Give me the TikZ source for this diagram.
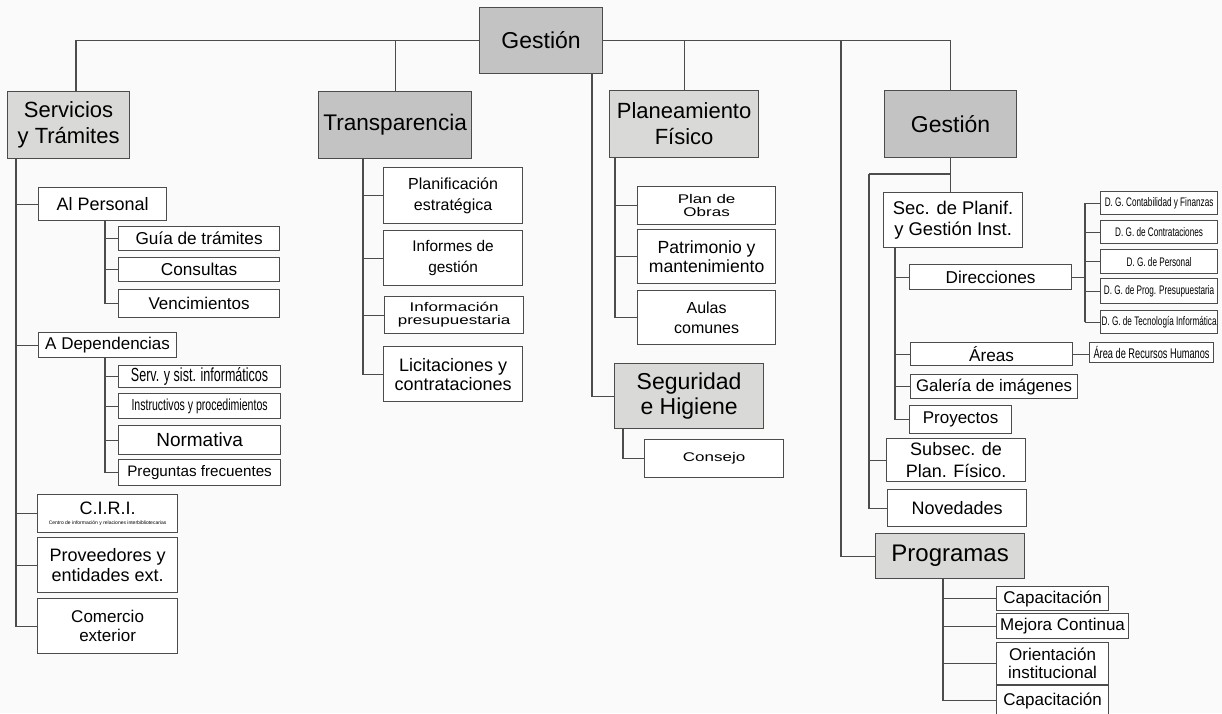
\documentclass[tikz,border=0pt]{standalone}
\usepackage{fontspec}
\setmainfont{Liberation Sans}
\newfontfamily\narrowfont[FakeStretch=0.66]{Liberation Sans}
\newfontfamily\widefont[FakeStretch=1.35]{Liberation Sans}
\newcommand{\fz}[2]{\fontsize{#1}{#2}\selectfont}
\definecolor{headfill}{HTML}{C3C3C3}
\definecolor{palefill}{HTML}{D9DAD8}
\definecolor{edgecol}{HTML}{4C4C4C}
\definecolor{bgcol}{HTML}{FAFAFA}

\begin{document}
\begin{tikzpicture}[x=0.5pt,y=-0.5pt,
    box/.style={draw=edgecol,line width=0.6pt,fill=white,anchor=north west,inner sep=0pt,align=center,font={\fz{8.5}{10}}},
    head/.style={box,fill=headfill},
    pale/.style={box,fill=palefill},
    wh/.style 2 args={minimum width=#1*0.5pt,minimum height=#2*0.5pt},
    conn/.style={draw=edgecol,line width=0.6pt},
    elbow/.style={to path={-| (\tikztotarget)}},
    vbow/.style={to path={|- (\tikztotarget)}}]
                        \clip (0,0) rectangle (1222,713);
                        \fill[bgcol] (0,0) rectangle (1222,713);

                        \node[head,wh={123}{66},font={\fz{11.5}{13}}] (root) at (479,7) {Gestión};
                        \node[pale,wh={122}{67},font={\fz{11}{13}}] (serv) at (7,91) {Servicios\\y Trámites};
                        \node[head,wh={153}{67},font={\fz{11.3}{13}}] (transp) at (318,91) {Transparencia};
                        \node[pale,wh={149}{67},font={\fz{11}{13}}] (plan) at (609,90) {Planeamiento\\Físico};
                        \node[head,wh={132}{67},font={\fz{11.5}{13}}] (gest) at (884,90) {Gestión};

                        \node[box,wh={128}{33},font={\fz{9}{10}}] (alp) at (38,187) {Al Personal};
                        \node[box,wh={161}{24},font={\fz{8.6}{10}}] (guia) at (118,226) {Guía de trámites};
                        \node[box,wh={161}{24},font={\fz{8.6}{10}}] (cons) at (118,257) {Consultas};
                        \node[box,wh={161}{28}] (venc) at (118,289) {Vencimientos};
                        \node[box,wh={138}{25}] (adep) at (38,332) {A Dependencias};
                        \node[box,wh={162}{22},font={\narrowfont\fz{9.5}{10}}] (servs) at (118,365) {Serv. y sist. informáticos};
                        \node[box,wh={162}{25},font={\narrowfont\fz{8}{9}}] (instr) at (118,393) {Instructivos y procedimientos};
                        \node[box,wh={162}{29},font={\fz{9.5}{10}}] (norm) at (118,425) {Normativa};
                        \node[box,wh={162}{26},font={\fz{7.6}{9}}] (preg) at (118,459) {Preguntas frecuentes};
                        \node[box,wh={140}{38},font={\fz{9}{10}}] (ciri) at (37,494) {C.I.R.I.\\[-5pt]{\fz{2.5}{3}Centro de información y relaciones interbibliotecarias}};
                        \node[box,wh={140}{55},font={\fz{9}{10}}] (prov) at (37,537) {Proveedores y\\entidades ext.};
                        \node[box,wh={140}{55},font={\fz{8.5}{9.3}}] (com) at (37,598) {Comercio\\exterior};

                        \node[box,wh={139}{56},font={\fz{8}{10.8}}] (planif) at (383,167) {Planificación\\estratégica};
                        \node[box,wh={139}{55},font={\fz{7.7}{10.8}}] (inf) at (383,230) {Informes de\\gestión};
                        \node[box,wh={139}{37},font={\widefont\fz{6.3}{6.5}}] (infp) at (384,296) {Información\\presupuestaria};
                        \node[box,wh={139}{55},font={\fz{9}{9.5}}] (lic) at (383,346) {Licitaciones y\\contrataciones};

                        \node[box,wh={138}{38},font={\widefont\fz{6.3}{6.5}}] (obras) at (637,186) {Plan de\\Obras};
                        \node[box,wh={138}{54},font={\fz{8.8}{9.3}}] (patr) at (637,229) {Patrimonio y\\mantenimiento};
                        \node[box,wh={138}{54},font={\fz{8}{10}}] (aulas) at (637,290) {Aulas\\comunes};
                        \node[pale,wh={149}{65},font={\fz{11.5}{12.5}}] (seg) at (614,363) {Seguridad\\e Higiene};
                        \node[box,wh={139}{38},font={\widefont\fz{6.3}{7}}] (consejo) at (644,439) {Consejo};

                        \node[box,wh={139}{55},font={\fz{9.2}{10.8}}] (sec) at (883,192) {Sec. de Planif.\\y Gestión Inst.};
                        \node[box,wh={162}{25},font={\fz{8.6}{10}}] (dir) at (909,264) {Direcciones};
                        \node[box,wh={117}{23},font={\narrowfont\fz{6.2}{7}}] (dg1) at (1100,191) {D. G. Contabilidad y Finanzas};
                        \node[box,wh={117}{23},font={\narrowfont\fz{6.2}{7}}] (dg2) at (1100,220) {D. G. de Contrataciones};
                        \node[box,wh={117}{24},font={\narrowfont\fz{6.2}{7}}] (dg3) at (1100,249) {D. G. de Personal};
                        \node[box,wh={117}{25},font={\narrowfont\fz{6.2}{7}}] (dg4) at (1100,278) {D. G. de Prog. Presupuestaria};
                        \node[box,wh={117}{23},font={\narrowfont\fz{6.2}{7}}] (dg5) at (1100,310) {D. G. de Tecnología Informática};
                        \node[box,wh={162}{23},font={\fz{8.6}{10}}] (areas) at (910,342) {Áreas};
                        \node[box,wh={124}{20},font={\narrowfont\fz{7}{8}}] (arh) at (1089,342) {Área de Recursos Humanos};
                        \node[box,wh={167}{24},font={\fz{8.4}{10}}] (gal) at (910,374) {Galería de imágenes};
                        \node[box,wh={102}{28}] (proy) at (909,405) {Proyectos};
                        \node[box,wh={139}{43},font={\fz{9}{10.8}}] (subsec) at (886,438) {Subsec. de\\Plan. Físico.};
                        \node[box,wh={139}{37},font={\fz{9}{10}}] (nov) at (887,489) {Novedades};
                        \node[pale,wh={149}{45},font={\fz{12}{13}}] (prog) at (875,533) {Programas};
                        \node[box,wh={112}{24}] (cap1) at (996,586) {Capacitación};
                        \node[box,wh={132}{25}] (mej) at (996,613) {Mejora Continua};
                        \node[box,wh={112}{42},font={\fz{8.5}{9.2}}] (ori) at (996,642) {Orientación\\institucional};
                        \node[box,wh={112}{30}] (cap2) at (996,685) {Capacitación};

                        \coordinate (sTop) at (76,91);
                        \coordinate (pTop) at (841,41);
                        \coordinate (rT) at (592,73);
                        \coordinate (sT) at (16,158);
                        \coordinate (alT) at (105,220);
                        \coordinate (adT) at (105,357);
                        \coordinate (tT) at (363,158);
                        \coordinate (pT) at (615,157);
                        \coordinate (segT) at (623,428);
                        \coordinate (gT) at (869,174);
                        \coordinate (secT) at (895,247);
                        \coordinate (dgT) at (1085,270);
                        \coordinate (prT) at (943,578);

                        \path[conn]
                            (root.west) edge[elbow] (sTop)
                            (root.east) edge[elbow] (gest.north)
                            (transp.north) edge (transp.north |- root.west)
                            (plan.north) edge (plan.north |- root.east)
                            (pTop) edge[vbow] (prog.west)
                            (rT) edge[vbow] (seg.west)

                            (sT) edge[vbow] (com.west)
                            (alp.west -| sT) edge (alp.west)
                            (adep.west -| sT) edge (adep.west)
                            (ciri.west -| sT) edge (ciri.west)
                            (prov.west -| sT) edge (prov.west)
                            (alT) edge[vbow] (venc.west)
                            (guia.west -| alT) edge (guia.west)
                            (cons.west -| alT) edge (cons.west)
                            (adT) edge[vbow] (preg.west)
                            (servs.west -| adT) edge (servs.west)
                            (instr.west -| adT) edge (instr.west)
                            (norm.west -| adT) edge (norm.west)

                            (tT) edge[vbow] (lic.west)
                            (planif.west -| tT) edge (planif.west)
                            (inf.west -| tT) edge (inf.west)
                            (infp.west -| tT) edge (infp.west)

                            (pT) edge[vbow] (aulas.west)
                            (obras.west -| pT) edge (obras.west)
                            (patr.west -| pT) edge (patr.west)
                            (segT) edge[vbow] (consejo.west)
                        ;

                        \path[conn]
                            (gest.south) edge (gest.south |- sec.north)
                            (gT -| gest.south) edge (gT)
                            (gT) edge[vbow] (nov.west)
                            (subsec.west -| gT) edge (subsec.west)
                            (secT) edge[vbow] (proy.west)
                            (dir.west -| secT) edge (dir.west)
                            (areas.west -| secT) edge (areas.west)
                            (gal.west -| secT) edge (gal.west)
                            (dir.east) edge (dir.east -| dgT)
                            (dg1.west) edge[elbow] (dg5.west -| dgT)
                            (dg2.west -| dgT) edge (dg2.west)
                            (dg3.west -| dgT) edge (dg3.west)
                            (dg4.west -| dgT) edge (dg4.west)
                            (dg5.west -| dgT) edge (dg5.west)
                            (areas.east) edge (areas.east -| arh.west)
                            (prT) edge[vbow] (cap2.west)
                            (cap1.west -| prT) edge (cap1.west)
                            (mej.west -| prT) edge (mej.west)
                            (ori.west -| prT) edge (ori.west)
                        ;

                    \end{tikzpicture}
\end{document}
